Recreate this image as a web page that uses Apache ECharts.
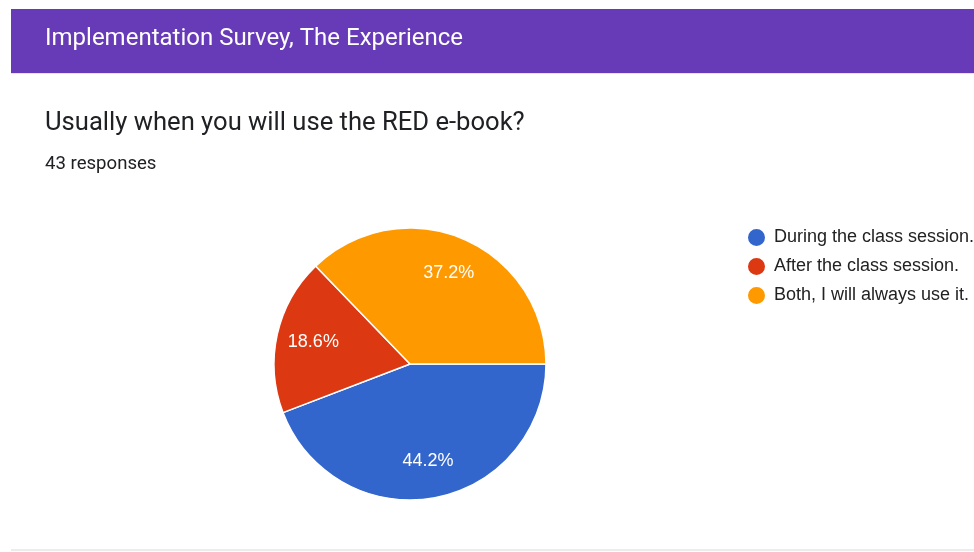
<!DOCTYPE html>
<html>
<head>
<meta charset="utf-8">
<script src="https://cdn.jsdelivr.net/npm/echarts@6/dist/echarts.min.js"></script>
<style>
html,body{margin:0;padding:0;background:#fff;}
#chart{width:974px;height:552px;}
</style>
</head>
<body>
<div id="chart"></div>
<script>
const headerTitle = "Implementation Survey, The Experience";
const question = "Usually when you will use the RED e-book?";
const responsesText = "43 responses";
const categories = ["During the class session.", "After the class session.", "Both, I will always use it."];
const counts = [19, 8, 16];
const colors = ["#3366cc", "#dc3912", "#ff9900"];

const total = counts.reduce((a, b) => a + b, 0);
const data = categories.map((c, i) => ({ name: c, value: counts[i], itemStyle: { color: colors[i] } }));

const chart = echarts.init(document.getElementById('chart'), null, { renderer: 'canvas' });
chart.setOption({
  animation: false,
  backgroundColor: '#ffffff',
  graphic: [
    { type: 'rect', shape: { x: 11, y: 9, width: 963, height: 64 }, style: { fill: '#673ab7' }, silent: true },
    { type: 'rect', shape: { x: 11, y: 73, width: 963, height: 1 }, style: { fill: '#e6e0f0' }, silent: true },
    { type: 'rect', shape: { x: 11, y: 549, width: 963, height: 2 }, style: { fill: '#ececec' }, silent: true },
    { type: 'text', left: 45, top: 27, style: { text: headerTitle, fill: '#ffffff', font: '24px Roboto' }, silent: true },
    { type: 'text', left: 45, top: 111, style: { text: question, fill: '#202124', font: '25.6px Roboto' }, silent: true },
    { type: 'text', left: 45, top: 155, style: { text: responsesText, fill: '#202124', font: '18.6px Roboto' }, silent: true }
  ],
  legend: {
    orient: 'vertical',
    left: 741,
    top: 222,
    icon: 'circle',
    itemWidth: 19,
    itemHeight: 19,
    itemGap: 8,
    textStyle: { fontFamily: 'Liberation Sans', fontSize: 18, color: '#222222', padding: [0, 0, 0, 3] },
    data: categories
  },
  series: [
    {
      type: 'pie',
      center: [410, 364],
      radius: [0, 136],
      startAngle: 0,
      clockwise: true,
      label: { show: false },
      labelLine: { show: false },
      itemStyle: { borderColor: '#ffffff', borderWidth: 1.5 },
      emphasis: { disabled: true },
      data: data
    },
    {
      type: 'pie',
      center: [410, 364],
      radius: [56, 136],
      startAngle: 0,
      clockwise: true,
      silent: true,
      legendHoverLink: false,
      itemStyle: { color: 'rgba(0,0,0,0)', borderWidth: 0 },
      label: {
        show: true,
        position: 'inside',
        color: '#ffffff',
        fontFamily: 'Liberation Sans',
        fontSize: 18,
        formatter: p => (p.value / total * 100).toFixed(1) + '%'
      },
      labelLine: { show: false },
      emphasis: { disabled: true },
      data: categories.map((c, i) => ({ name: c + ' ', value: counts[i], itemStyle: { color: 'rgba(0,0,0,0)' } }))
    }
  ]
});
</script>
</body>
</html>
